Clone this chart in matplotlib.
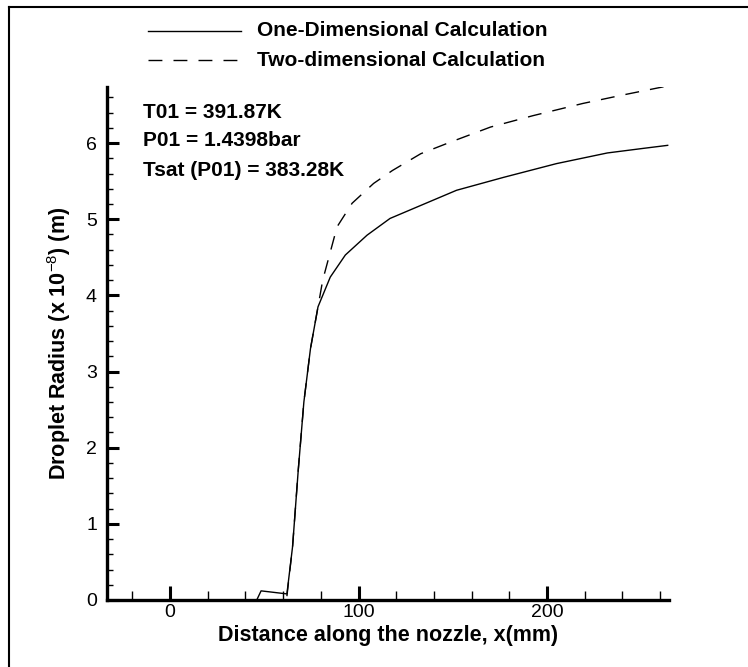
import matplotlib
matplotlib.use("Agg")
import matplotlib.pyplot as plt
from matplotlib.lines import Line2D
from matplotlib.ticker import MultipleLocator

# dados (x em mm, raio em 1e-8 m)
x_1d = [46, 48.3, 62, 65, 68, 71, 74.5, 78.5, 85, 93, 104.5, 116.7, 131, 152, 177, 205, 232, 251, 264]
r_1d = [0.0, 0.12, 0.08, 0.7, 1.7, 2.6, 3.3, 3.85, 4.24, 4.53, 4.79, 5.01, 5.16, 5.38, 5.55, 5.73, 5.87, 5.93, 5.97]

x_2d = [62, 65, 68, 71, 74.5, 78.5, 81, 88.6, 96.6, 108, 118, 133, 148.5, 170, 192.6, 219, 240, 256, 264]
r_2d = [0.05, 0.7, 1.7, 2.6, 3.3, 3.85, 4.2, 4.9, 5.21, 5.47, 5.64, 5.86, 6.01, 6.21, 6.36, 6.52, 6.63, 6.71, 6.75]

legenda = ["One-Dimensional Calculation", "Two-dimensional Calculation"]
info = ["T01 = 391.87K", "P01 = 1.4398bar", "Tsat (P01) = 383.28K"]

plt.rcParams["font.family"] = ["Liberation Sans", "DejaVu Sans"]
plt.rcParams["mathtext.fontset"] = "custom"
plt.rcParams["mathtext.rm"] = "Liberation Sans"
plt.rcParams["mathtext.bf"] = "Liberation Sans:bold"

W, H = 748, 667
fig = plt.figure(figsize=(W / 100, H / 100), dpi=100)
ax = fig.add_axes([106.7 / W, 1 - 600 / H, (669 - 106.7) / W, (600 - 86.7) / H])

ax.plot(x_1d, r_1d, color="black", lw=1.0)
ax.plot(x_2d, r_2d, color="black", lw=1.0, dashes=(10, 8))

ax.set_xlim(-33.6, 264.7)
ax.set_ylim(0, 6.74)

for s in ["top", "right"]:
    ax.spines[s].set_visible(False)
for s in ["left", "bottom"]:
    ax.spines[s].set_linewidth(2.4)

ax.xaxis.set_major_locator(MultipleLocator(100))
ax.xaxis.set_minor_locator(MultipleLocator(20))
ax.yaxis.set_major_locator(MultipleLocator(1))
ax.yaxis.set_minor_locator(MultipleLocator(0.2))
ax.tick_params(axis="x", which="major", direction="in", length=10, width=2.2, labelsize=14, pad=3)
ax.tick_params(axis="x", which="minor", direction="in", length=6.5, width=1.0)
ax.tick_params(axis="y", which="major", direction="in", length=8.6, width=2.2, labelsize=14, pad=7)
ax.tick_params(axis="y", which="minor", direction="in", length=4.3, width=1.0)

ax.set_xlabel("Distance along the nozzle, x(mm)", fontsize=15.5, fontweight="bold", labelpad=3)
ax.set_ylabel(r"Droplet Radius (x 10$^{-8}$) (m)", fontsize=15.5, fontweight="bold", labelpad=9)

# textos dentro do grafico
for i, t in enumerate(info):
    fig.text(143 / W, 1 - (112 + 29 * i) / H, t, fontsize=15, fontweight="bold", va="center", ha="left")

# legenda manual no topo
estilos = [dict(ls="-"), dict(dashes=(10, 8))]
for i, (lab, st) in enumerate(zip(legenda, estilos)):
    yy = 1 - (31 + 29 * i) / H
    fig.add_artist(Line2D([148 / W, 241 / W], [yy, yy], color="black", lw=1.0, transform=fig.transFigure, **st))
    fig.text(257 / W, yy, lab, fontsize=15, fontweight="bold", va="center", ha="left")

# moldura (so topo e esquerda)
fig.add_artist(Line2D([9 / W, 1], [1 - 7 / H, 1 - 7 / H], color="black", lw=1.5, transform=fig.transFigure))
fig.add_artist(Line2D([9 / W, 9 / W], [0, 1 - 7 / H], color="black", lw=1.5, transform=fig.transFigure))

plt.savefig("out.png", dpi=100)
